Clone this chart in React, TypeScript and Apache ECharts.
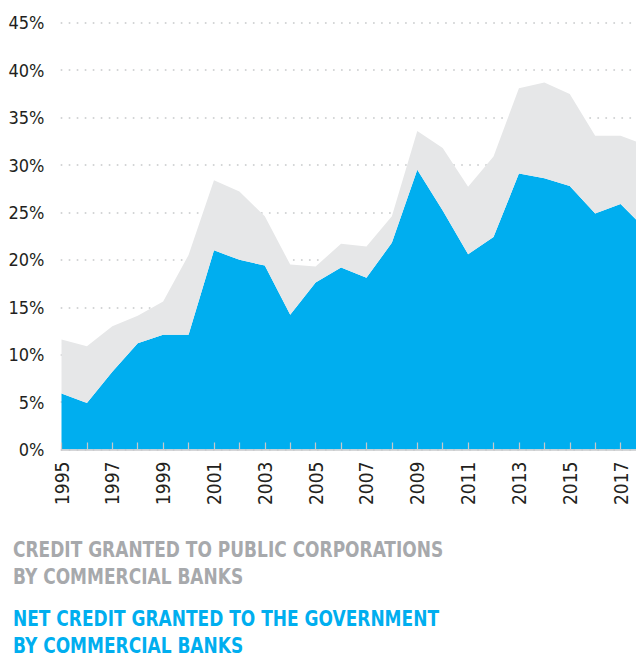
import React, { useEffect, useRef } from "react";
import * as echarts from "echarts";

const years = [
  "1995", "1996", "1997", "1998", "1999", "2000", "2001", "2002", "2003", "2004", "2005", "2006",
  "2007", "2008", "2009", "2010", "2011", "2012", "2013", "2014", "2015", "2016", "2017", "2018",
];
// Net credit granted to the government by commercial banks (%)
const netGovCredit = [
  5.9, 4.9, 8.2, 11.2, 12.1, 12.1, 21.0, 20.0, 19.4, 14.2, 17.6, 19.2,
  18.1, 21.8, 29.5, 25.2, 20.6, 22.4, 29.1, 28.6, 27.8, 24.9, 25.9, 23.2,
];
// Credit granted to public corporations by commercial banks (%, stacked on top)
const publicCorpCredit = [
  5.7, 6.0, 4.8, 2.9, 3.5, 8.4, 7.4, 7.2, 5.2, 5.3, 1.7, 2.5,
  3.3, 2.8, 4.1, 6.6, 7.1, 8.5, 9.0, 10.1, 9.7, 8.2, 7.2, 8.9,
];
const legendGray = ["CREDIT GRANTED TO PUBLIC CORPORATIONS", "BY COMMERCIAL BANKS"];
const legendBlue = ["NET CREDIT GRANTED TO THE GOVERNMENT", "BY COMMERCIAL BANKS"];

const BLUE = "#00aeef";
const GRAY = "#e6e7e8";
const GRAY_TEXT = "#a7a9ac";
const FONT = "'DejaVu Sans Condensed', 'DejaVu Sans', sans-serif";

export default function App() {
  const ref = useRef<HTMLDivElement>(null);
  useEffect(() => {
    document.body.style.margin = "0";
    const chart = echarts.init(ref.current!, null, { renderer: "svg" });
    const legendText = (lines: string[], color: string, y0: number) =>
      lines.map((t, i) => ({
        type: "text",
        x: 13,
        y: y0 + i * 27,
        scaleX: 0.86,
        style: {
          text: t,
          fill: color,
          font: `bold 22px ${FONT}`,
          lineHeight: 22,
          textVerticalAlign: "top",
        },
      }));
    chart.setOption({
      animation: false,
      grid: { left: 61.5, top: 22.8, right: 0, bottom: 658 - 449.5, containLabel: false },
      xAxis: {
        type: "category",
        data: years,
        boundaryGap: false,
        axisLine: { lineStyle: { color: "#c7c8ca", width: 1.5 } },
        axisTick: { inside: true, length: 7, interval: 0, lineStyle: { color: "#c7c8ca", width: 1.2 } },
        axisLabel: {
          rotate: 90,
          interval: 1,
          margin: 12,
          fontSize: 19,
          fontFamily: FONT,
          color: "#231f20",
        },
        splitLine: { show: false },
        z: 5,
      },
      yAxis: {
        type: "value",
        min: 0,
        max: 45,
        interval: 5,
        axisLine: { show: false },
        axisTick: { show: false },
        axisLabel: {
          formatter: "{value}%",
          margin: 17,
          fontSize: 18,
          fontFamily: FONT,
          color: "#231f20",
        },
        splitLine: {
          lineStyle: { color: "#d1d3d4", width: 2, type: [0.01, 8], cap: "round" },
        },
      },
      series: [
        {
          name: legendBlue.join(" "),
          type: "line",
          stack: "total",
          data: netGovCredit,
          symbol: "none",
          lineStyle: { width: 0 },
          areaStyle: { color: BLUE, opacity: 1 },
        },
        {
          name: legendGray.join(" "),
          type: "line",
          stack: "total",
          data: publicCorpCredit,
          symbol: "none",
          lineStyle: { width: 0 },
          areaStyle: { color: GRAY, opacity: 1 },
        },
      ],
      graphic: [
        ...legendText(legendGray, GRAY_TEXT, 538),
        ...legendText(legendBlue, BLUE, 607),
      ],
    });
    return () => chart.dispose();
  }, []);
  return (
    <div style={{ width: 636, height: 658, overflow: "hidden", position: "relative" }}>
      <div ref={ref} style={{ width: 646, height: 658 }} />
    </div>
  );
}
